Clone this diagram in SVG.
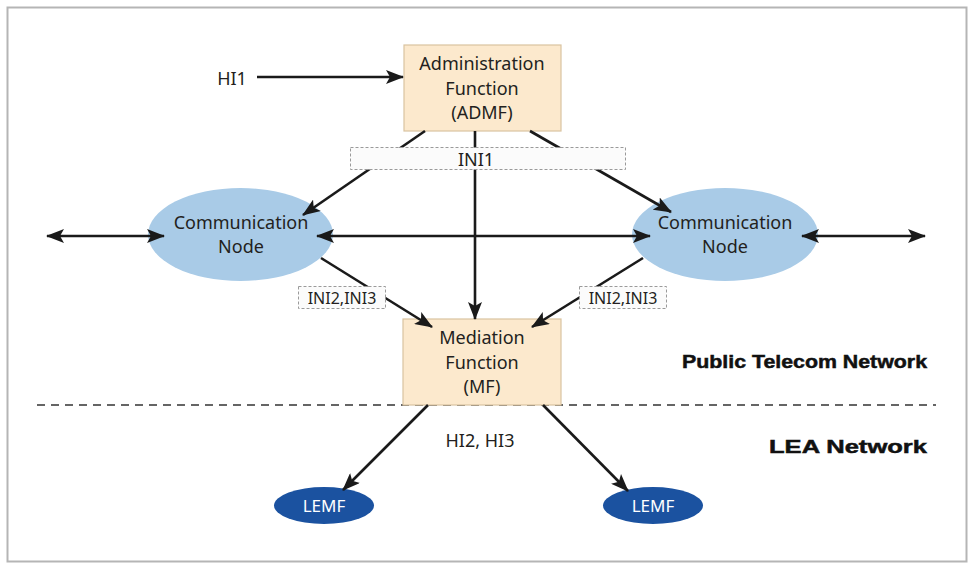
<svg xmlns="http://www.w3.org/2000/svg" width="976" height="568" viewBox="0 0 976 568">
<style>
.t{font-family:"Noto Sans","Liberation Sans",Arial,sans-serif;font-size:18px;fill:#231f20;text-anchor:middle}
.lbl{font-size:16px}
.bold{font-family:"Liberation Sans",Arial,sans-serif;font-weight:bold;text-anchor:start;font-size:19px;fill:#111;stroke:#111;stroke-width:0.5}
.box{fill:#fce9cd;stroke:#d9c3a0;stroke-width:1.2}
.cn{fill:#a9cbe7}
.lemf{fill:#1b52a0}
.lemft{fill:#ffffff;font-size:17px}
.dbox{fill:#fbfbfb;stroke:#9a9a9a;stroke-width:1;stroke-dasharray:3 2}
.c{stroke:#1a1a1a;stroke-width:2.6;fill:none}
</style>
<defs>
<marker id="ah" markerUnits="userSpaceOnUse" markerWidth="18" markerHeight="14" refX="17" refY="7" orient="auto-start-reverse" viewBox="0 0 18 14">
<path d="M0,0 L18,7 L0,14 L4,7 z" fill="#1a1a1a"/>
</marker>
</defs>
<rect x="0" y="0" width="976" height="568" fill="#ffffff"/>
<rect x="7.5" y="7.5" width="959" height="554" fill="#ffffff" stroke="#b5b5b5" stroke-width="2"/>

<line x1="37" y1="405" x2="936" y2="405" stroke="#333" stroke-width="1.5" stroke-dasharray="8 6"/>

<g id="admf">
<rect class="box" x="404" y="45" width="157" height="86"/>
<text class="t" x="482" y="70">Administration</text>
<text class="t" x="482" y="95">Function</text>
<text class="t" x="482" y="119">(ADMF)</text>
</g>

<g id="mf">
<rect class="box" x="403" y="319" width="158" height="86"/>
<text class="t" x="482" y="344">Mediation</text>
<text class="t" x="482" y="369">Function</text>
<text class="t" x="482" y="393">(MF)</text>
</g>

<g id="cn-left">
<ellipse class="cn" cx="240.5" cy="234.5" rx="92.5" ry="46.5"/>
<text class="t" x="241" y="229">Communication</text>
<text class="t" x="241" y="253">Node</text>
</g>

<g id="cn-right">
<ellipse class="cn" cx="725" cy="234.5" rx="93" ry="46.5"/>
<text class="t" x="725" y="229">Communication</text>
<text class="t" x="725" y="253">Node</text>
</g>

<g id="lemf-left">
<ellipse class="lemf" cx="324" cy="505.5" rx="50" ry="18.5"/>
<text class="t lemft" x="324" y="512">LEMF</text>
</g>

<g id="lemf-right">
<ellipse class="lemf" cx="653" cy="505.5" rx="50" ry="18.5"/>
<text class="t lemft" x="653" y="512">LEMF</text>
</g>

<g id="connectors">
<line class="c" x1="257" y1="77" x2="403" y2="77" marker-end="url(#ah)"/>
<line class="c" x1="425" y1="131" x2="303" y2="215" marker-end="url(#ah)"/>
<line class="c" x1="530" y1="131" x2="671" y2="212" marker-end="url(#ah)"/>
<line class="c" x1="475" y1="131" x2="475" y2="319" marker-end="url(#ah)"/>
<line class="c" x1="47" y1="236" x2="164" y2="236" marker-start="url(#ah)" marker-end="url(#ah)"/>
<line class="c" x1="317" y1="236" x2="650" y2="236" marker-start="url(#ah)" marker-end="url(#ah)"/>
<line class="c" x1="802" y1="236" x2="925" y2="236" marker-start="url(#ah)" marker-end="url(#ah)"/>
<line class="c" x1="321" y1="258" x2="432" y2="327" marker-end="url(#ah)"/>
<line class="c" x1="643" y1="258" x2="532" y2="327" marker-end="url(#ah)"/>
<line class="c" x1="428" y1="405" x2="343" y2="490" marker-end="url(#ah)"/>
<line class="c" x1="543" y1="405" x2="628" y2="491" marker-end="url(#ah)"/>
</g>

<g id="labels">
<text class="t" x="232" y="85">HI1</text>
<rect class="dbox" x="350.5" y="147.5" width="275" height="22"/>
<text class="t" x="476" y="166">INI1</text>
<rect class="dbox" x="298.5" y="286.5" width="87" height="22"/>
<text class="t lbl" x="342" y="304">INI2,INI3</text>
<rect class="dbox" x="579.5" y="286.5" width="87" height="22"/>
<text class="t lbl" x="623" y="304">INI2,INI3</text>
<text class="t" x="480" y="447">HI2, HI3</text>
<text class="bold" x="682" y="368" textLength="245" lengthAdjust="spacingAndGlyphs">Public Telecom Network</text>
<text class="bold" x="769" y="453" textLength="158" lengthAdjust="spacingAndGlyphs">LEA Network</text>
</g>
</svg>
